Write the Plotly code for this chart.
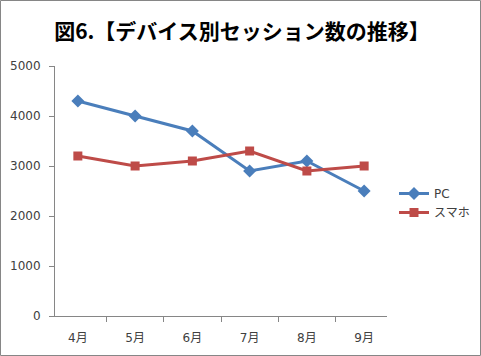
import plotly.graph_objects as go

months = ["4月", "5月", "6月", "7月", "8月", "9月"]
pc = [4300, 4000, 3700, 2900, 3100, 2500]
sp = [3200, 3000, 3100, 3300, 2900, 3000]

W, H = 481, 356
L, R, T, B = 55, 94, 66, 40
pw, ph = W - L - R, H - T - B
axis_col = "#868686"
font_fam = "Noto Sans CJK JP, Noto Sans, sans-serif"
tick_fam = "DejaVu Sans, Noto Sans CJK JP, sans-serif"

fig = go.Figure()
fig.add_trace(go.Scatter(x=months, y=pc, name="PC", mode="lines+markers",
                         line=dict(color="#4A7EBB", width=3),
                         marker=dict(symbol="diamond", size=10, color="#4A7EBB")))
fig.add_trace(go.Scatter(x=months, y=sp, name="スマホ", mode="lines+markers",
                         line=dict(color="#BE4B48", width=3),
                         marker=dict(symbol="square", size=9, color="#BE4B48")))

fig.update_layout(
    width=W, height=H,
    margin=dict(l=L, r=R, t=T, b=B, autoexpand=False),
    paper_bgcolor="white", plot_bgcolor="white",
    font=dict(family=font_fam, size=12, color="#404040"),
    title=dict(text="<b>図6.【デバイス別セッション数の推移】</b>",
               x=0.503, xanchor="center", y=1 - 32 / H, yanchor="middle",
               font=dict(size=21, color="black", family=font_fam)),
    showlegend=True,
    legend=dict(x=(394 - L) / pw, y=(T + ph - 203) / ph, xanchor="left", yanchor="middle",
                font=dict(size=12, color="#404040", family=tick_fam), bgcolor="rgba(0,0,0,0)",
                itemwidth=30, tracegroupgap=0),
    xaxis=dict(showline=True, linecolor=axis_col, linewidth=1, ticks="outside",
               tickcolor=axis_col, ticklen=5, tickson="boundaries", showgrid=False,
               zeroline=False, ticklabelstandoff=11,
               tickfont=dict(size=12, color="#404040", family=tick_fam)),
    yaxis=dict(range=[0, 5000], dtick=1000, showline=True, linecolor=axis_col, linewidth=1,
               ticks="outside", tickcolor=axis_col, ticklen=5, showgrid=False, zeroline=False,
               ticklabelstandoff=6,
               tickfont=dict(size=12, color="#404040", family=tick_fam)),
)

fig.add_shape(type="rect", xref="paper", yref="paper",
              x0=(0.5 - L) / pw, x1=(W - 0.5 - L) / pw,
              y0=-(B - 0.5) / ph, y1=(H - 0.5 - B) / ph,
              line=dict(color=axis_col, width=1), fillcolor="rgba(0,0,0,0)", layer="below")

fig.write_html("out.html", config={"displayModeBar": False},
               post_script="document.body.style.margin='0';document.body.style.overflow='hidden';")
